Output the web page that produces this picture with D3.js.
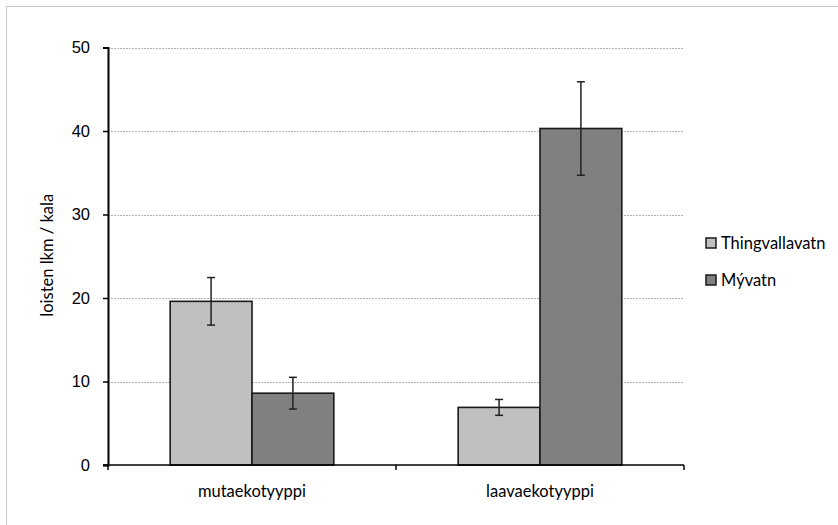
<!DOCTYPE html>
<html>
<head>
<meta charset="utf-8">
<script src="https://cdn.jsdelivr.net/npm/d3@7"></script>
<style>
  html, body { margin: 0; padding: 0; background: #fff; }
  svg { display: block; font-family: Lato, "Open Sans", sans-serif; }
</style>
</head>
<body>
<svg id="chart" width="838" height="525"></svg>
<script>
// Parasite counts per fish by lake and ecotype (mean ± error)
const categories = ["mutaekotyyppi", "laavaekotyyppi"];
const seriesNames = ["Thingvallavatn", "Mývatn"];
const thingvallavatn = [19.6, 6.9];
const thingvallavatnErr = [2.85, 0.95];
const myvatn = [8.6, 40.3];
const myvatnErr = [1.9, 5.6];
const yTicks = [0, 10, 20, 30, 40, 50];

const colors = ["#c0c0c0", "#808080"];
const values = [thingvallavatn, myvatn];
const errors = [thingvallavatnErr, myvatnErr];
const fontSize = 16.5;

const svg = d3.select("#chart");

// Outer chart frame
svg.append("rect")
  .attr("x", 6.5).attr("y", 6.5)
  .attr("width", 840).attr("height", 530)
  .attr("fill", "none").attr("stroke", "#c8c8c8").attr("stroke-width", 1);

const plot = { left: 108, right: 684, top: 47.5, bottom: 465 };

const x = d3.scaleBand().domain(categories).range([plot.left, plot.right]);
const xInner = d3.scaleBand().domain(seriesNames)
  .range([0, x.bandwidth()]).paddingInner(0).paddingOuter(0.76);
const y = d3.scaleLinear().domain([0, 50]).range([plot.bottom, plot.top]);

// Horizontal gridlines
svg.append("g").selectAll("line").data(yTicks.filter(d => d > 0)).join("line")
  .attr("x1", plot.left).attr("x2", plot.right)
  .attr("y1", d => Math.round(y(d)) + 0.5).attr("y2", d => Math.round(y(d)) + 0.5)
  .attr("stroke", "#b4b4b4").attr("stroke-width", 1).attr("stroke-dasharray", "2,1");

// Y axis
const yAxis = svg.append("g")
  .attr("transform", `translate(${plot.left},0)`)
  .call(d3.axisLeft(y).tickValues(yTicks).tickSize(5).tickPadding(13).tickFormat(d3.format("d")));
yAxis.select(".domain").attr("stroke", "#000").attr("stroke-width", 2);
yAxis.selectAll(".tick line").attr("stroke", "#000").attr("stroke-width", 1.5);
yAxis.selectAll("text").attr("font-size", fontSize).attr("fill", "#000");

// Bars
const groups = svg.append("g").selectAll("g").data(categories).join("g")
  .attr("transform", c => `translate(${x(c)},0)`);

seriesNames.forEach((s, si) => {
  groups.append("rect")
    .attr("x", xInner(s))
    .attr("width", xInner.bandwidth())
    .attr("y", (c, ci) => y(values[si][ci]))
    .attr("height", (c, ci) => y(0) - y(values[si][ci]))
    .attr("fill", colors[si])
    .attr("stroke", "#1a1a1a").attr("stroke-width", 1.6);
});

// Error bars
seriesNames.forEach((s, si) => {
  const eb = groups.append("g").attr("stroke", "#222").attr("stroke-width", 1.5);
  const cx = xInner(s) + xInner.bandwidth() / 2;
  eb.append("line")
    .attr("x1", cx).attr("x2", cx)
    .attr("y1", (c, ci) => y(values[si][ci] + errors[si][ci]))
    .attr("y2", (c, ci) => y(values[si][ci] - errors[si][ci]));
  [1, -1].forEach(sign => {
    eb.append("line")
      .attr("x1", cx - 4).attr("x2", cx + 4)
      .attr("y1", (c, ci) => y(values[si][ci] + sign * errors[si][ci]))
      .attr("y2", (c, ci) => y(values[si][ci] + sign * errors[si][ci]));
  });
});

// X axis
const xAxis = svg.append("g")
  .attr("transform", `translate(0,${plot.bottom})`);
xAxis.append("line")
  .attr("x1", plot.left - 5).attr("x2", plot.right)
  .attr("y1", 0).attr("y2", 0)
  .attr("stroke", "#000").attr("stroke-width", 1.5);
const xTickPos = [plot.left, ...categories.map(c => x(c) + x.bandwidth())];
xAxis.selectAll(".xt").data(xTickPos).join("line")
  .attr("x1", d => d).attr("x2", d => d)
  .attr("y1", 0).attr("y2", 5)
  .attr("stroke", "#000").attr("stroke-width", 1.5);
xAxis.selectAll(".xl").data(categories).join("text")
  .attr("x", c => x(c) + x.bandwidth() / 2)
  .attr("y", 32)
  .attr("text-anchor", "middle")
  .attr("font-size", fontSize).attr("fill", "#000")
  .text(c => c);

// Y axis title
svg.append("text")
  .attr("transform", `translate(53,${(plot.top + plot.bottom) / 2 - 1}) rotate(-90)`)
  .attr("text-anchor", "middle")
  .attr("font-size", fontSize).attr("fill", "#000")
  .text("loisten lkm / kala");

// Legend
const legend = svg.append("g").selectAll("g").data(seriesNames).join("g")
  .attr("transform", (d, i) => `translate(706,${243 + i * 37})`);
legend.append("rect")
  .attr("x", 0).attr("y", -5).attr("width", 10).attr("height", 10)
  .attr("fill", (d, i) => colors[i])
  .attr("stroke", "#1a1a1a").attr("stroke-width", 1.5);
legend.append("text")
  .attr("x", 15).attr("y", 0).attr("dy", "0.36em")
  .attr("font-size", fontSize).attr("fill", "#000")
  .text(d => d);
</script>
</body>
</html>
